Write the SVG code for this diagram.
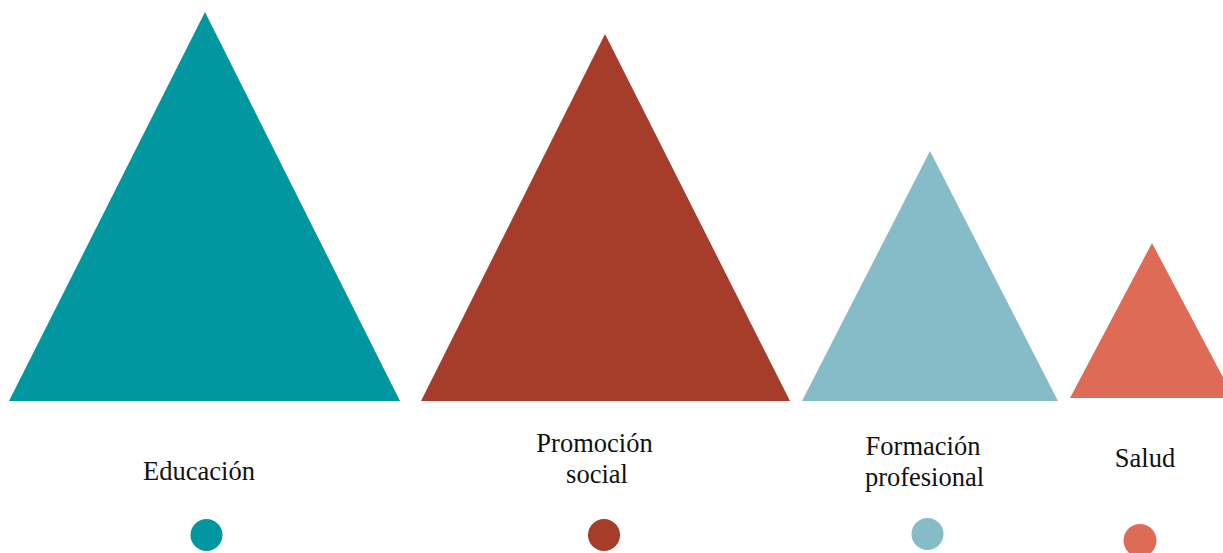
<svg xmlns="http://www.w3.org/2000/svg" width="1223" height="553" viewBox="0 0 1223 553">
<style>
text{font-family:"Liberation Serif","Times New Roman",serif;font-size:26.5px;fill:#111;text-anchor:middle}
.c1{fill:#0097A0}.c2{fill:#A63C2A}.c3{fill:#86BCC8}.c4{fill:#DE6B55}
</style>
<rect width="1223" height="553" fill="#fff"/>
<g id="educacion">
<polygon class="c1" points="205,12 400,401 9,401"/>
<text x="199" y="480">Educación</text>
<circle class="c1" cx="206.5" cy="535" r="16"/>
</g>
<g id="promocion">
<polygon class="c2" points="605,34 790,401 421,401"/>
<text x="594.5" y="452">Promoción</text>
<text x="597" y="483">social</text>
<circle class="c2" cx="604" cy="535" r="16"/>
</g>
<g id="formacion">
<polygon class="c3" points="930,151 1058,401 802,401"/>
<text x="923" y="455">Formación</text>
<text x="924.5" y="486">profesional</text>
<circle class="c3" cx="927.5" cy="534" r="16"/>
</g>
<g id="salud">
<polygon class="c4" points="1152,243 1234,398 1070,398"/>
<text x="1145" y="467">Salud</text>
<circle class="c4" cx="1140" cy="540.5" r="16.5"/>
</g>
<g id="connectors"/>
</svg>
